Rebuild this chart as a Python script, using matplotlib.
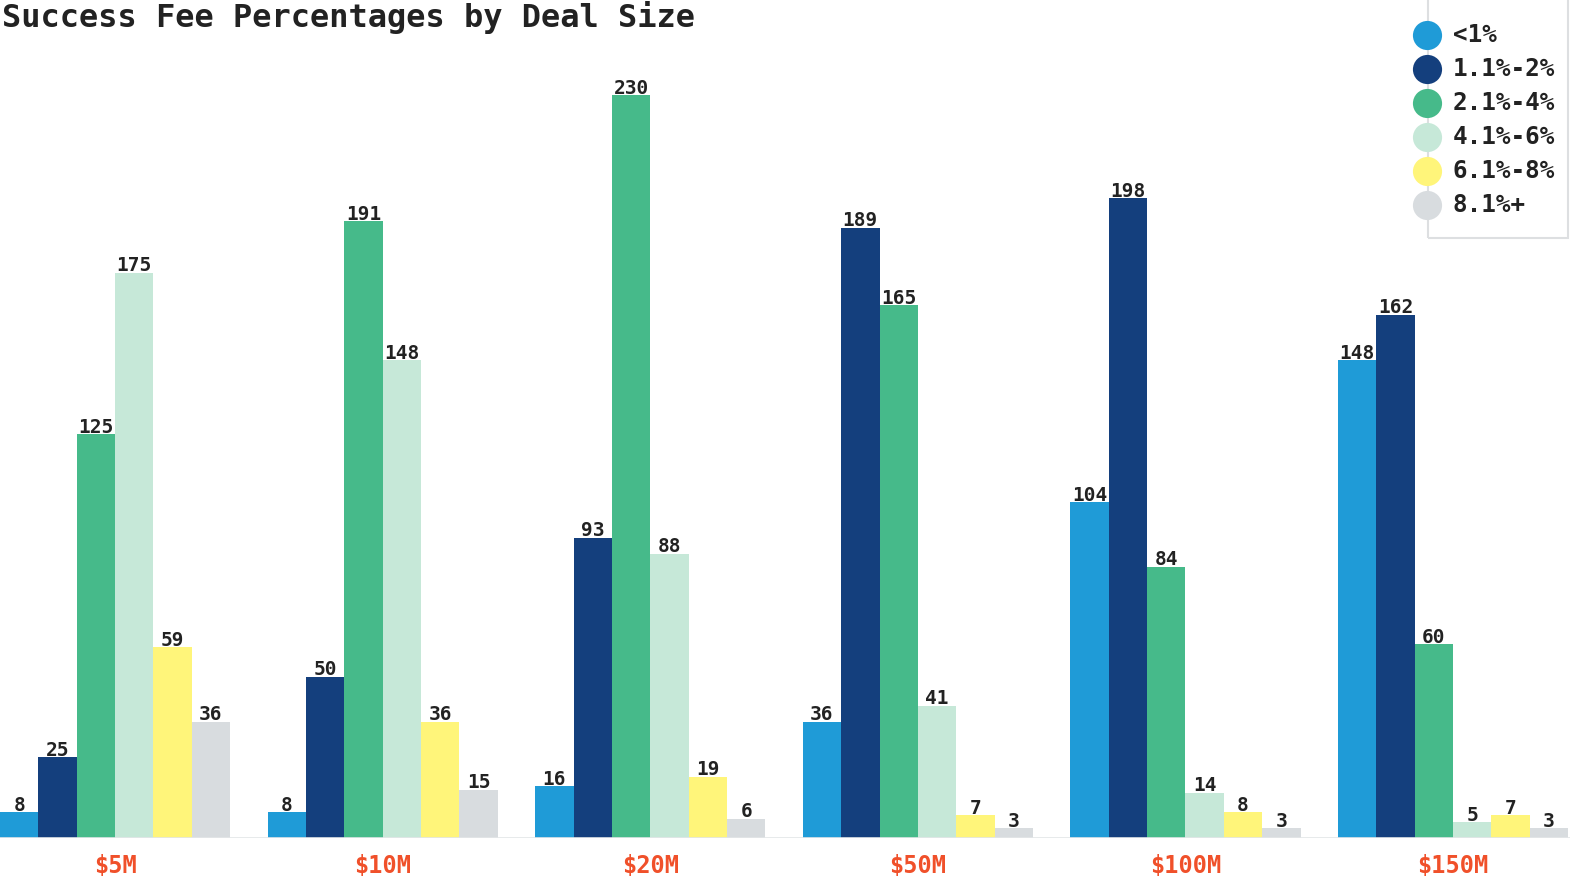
import matplotlib.pyplot as plt
from matplotlib.lines import Line2D
from matplotlib.patches import Rectangle
import numpy as np

deal_sizes = ['$5M', '$10M', '$20M', '$50M', '$100M', '$150M']
fee_ranges = ['<1%', '1.1%-2%', '2.1%-4%', '4.1%-6%', '6.1%-8%', '8.1%+']
colors = ['#1F9BD7', '#143F7D', '#46BA8A', '#C6E8D8', '#FFF57A', '#D8DCDF']

under_1 = [8, 8, 16, 36, 104, 148]
fee_1_2 = [25, 50, 93, 189, 198, 162]
fee_2_4 = [125, 191, 230, 165, 84, 60]
fee_4_6 = [175, 148, 88, 41, 14, 5]
fee_6_8 = [59, 36, 19, 7, 8, 7]
over_8 = [36, 15, 6, 3, 3, 3]

series = [under_1, fee_1_2, fee_2_4, fee_4_6, fee_6_8, over_8]

mono = 'DejaVu Sans Mono'
W, H = 1570, 876
fig = plt.figure(figsize=(W / 100, H / 100), dpi=100)
ax = fig.add_axes([0, 38 / H, 1, 1 - 38 / H])

x = np.arange(len(deal_sizes))
bw = 0.1433
for j, (vals, c) in enumerate(zip(series, colors)):
    pos = x + (j - 2.5) * bw
    ax.bar(pos, vals, width=bw, color=c, linewidth=0)
    for p, v in zip(pos, vals):
        ax.text(p, v + 0.4, str(v), ha='center', va='baseline', fontsize=14,
                fontweight='bold', family=mono, color='#222222')

ax.axhline(0, color='#E3E6E8', lw=1.2)
ax.set_xlim(-0.43, 5.437)
ax.set_ylim(0, 838 / 3.23)
ax.axis('off')

for xi, lab in zip(x, deal_sizes):
    fig.text((xi + 0.43) / 5.867, 3 / H, lab, ha='center', va='baseline',
             fontsize=17, fontweight='bold', family=mono, color='#F0502A')

fig.text(0.001, 1 - 1 / H, 'Success Fee Percentages by Deal Size', ha='left', va='top',
         fontsize=23, fontweight='bold', family=mono, color='#222222')

# legend box
fig.patches.append(Rectangle((1428 / W, 1 - 238 / H), 140 / W, 240 / H,
                             transform=fig.transFigure, fill=False,
                             edgecolor='#DDDFE1', lw=1.5))
for k, (lab, c) in enumerate(zip(fee_ranges, colors)):
    yy = 1 - (35 + k * 34) / H
    fig.lines.append(Line2D([1427 / W], [yy], transform=fig.transFigure, marker='o',
                            markersize=21, color=c, markeredgewidth=0, linestyle=''))
    fig.text(1453 / W, yy, lab, ha='left', va='center', fontsize=17.5,
             fontweight='bold', family=mono, color='#222222')

fig.savefig('out.png', dpi=100)
